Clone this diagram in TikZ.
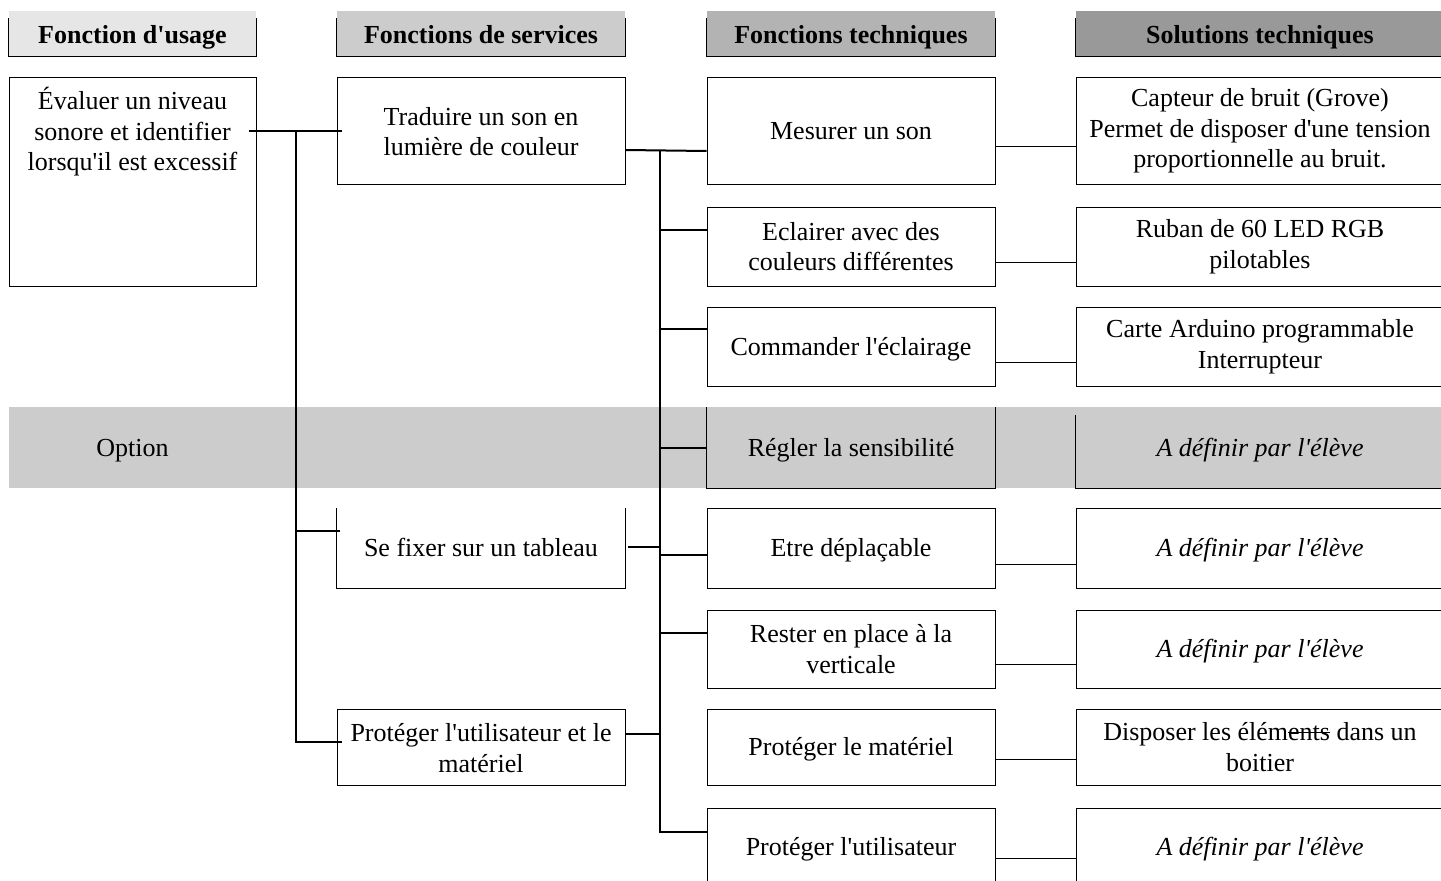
\documentclass[tikz,border=0pt]{standalone}
\usepackage{fontspec}
\setmainfont{Liberation Serif}
\usetikzlibrary{calc}
\newcommand\mystrike[1]{\begingroup\setbox2=\hbox{#1}\rlap{\rule[0.28em]{\wd2}{0.05em}}\box2\endgroup}
\newcommand\apos{\textquotesingle}
\definecolor{hA}{HTML}{E6E6E6}
\definecolor{hB}{HTML}{CCCCCC}
\definecolor{hC}{HTML}{B3B3B3}
\definecolor{hD}{HTML}{999999}
\definecolor{bandgray}{HTML}{CCCCCC}
\tikzset{
  every node/.style={font=\fontsize{26}{30.5}\selectfont, inner sep=0pt, align=center},
  cA/.style={minimum width=247pt},
  cB/.style={minimum width=288pt},
  cC/.style={minimum width=288pt},
  cD/.style={minimum width=368pt},
  box/.style={draw=black, line width=1pt},
  one/.style={text height=19pt, text depth=2pt},
  hdr/.style={font=\fontsize{26}{30.5}\selectfont\bfseries, minimum height=45pt, text height=22pt, text depth=2pt},
  edge/.style={line width=1pt},
  conn/.style={line width=2pt},
  thinconn/.style={line width=1pt},
  sol/.style={font=\fontsize{26}{30.5}\selectfont\itshape, one}
}
\begin{document}
\begin{tikzpicture}[x=1pt,y=-1pt]
\useasboundingbox (0,0) rectangle (1441,881);
\clip (0,0) rectangle (1441,881);
\fill[white] (0,0) rectangle (1441,881);

% headers
\node[hdr,cA,fill=hA] (h1) at (132.5,33.5) {Fonction d\apos usage};
\node[hdr,cB,fill=hB] (h2) at (481,33.5) {Fonctions de services};
\node[hdr,cC,fill=hC] (h3) at (851,33.5) {Fonctions techniques};
\node[hdr,cD,fill=hD] (h4) at (1260,33.5) {Solutions techniques};
\foreach \h in {h1,h2,h3,h4}
  \draw[edge] ($(\h.north west)+(0,7)$) -- (\h.south west) -- (\h.south east) -- ($(\h.north east)+(0,7)$);

% option band
\node[fill=bandgray, minimum width=1432pt, minimum height=81pt, anchor=west] (band) at (9,447.5) {};
\node[one] (opt) at (132.5,447.5) {Option};

% column 1
\node[box,cA,minimum height=209pt] (ev) at (132.5,181.5) {};
\node[anchor=north] (evt) at (132.5,87) {Évaluer un niveau\\sonore et identifier\\lorsqu\apos il est excessif};

% column 2
\node[box,cB,minimum height=107pt] (trad) at (481,130.5) {};
\node (tradt) at (481,131.5) {Traduire un son en\\lumière de couleur};
\node[cB,minimum height=80pt,one] (fix) at (481,548) {Se fixer sur un tableau};
\draw[edge] (fix.north west) -- (fix.south west) -- (fix.south east) -- (fix.north east);
\node[box,cB,minimum height=76pt] (pum) at (481,747) {};
\node (pumt) at (481,748) {Protéger l\apos utilisateur et le\\matériel};

% column 3
\node[box,cC,minimum height=107pt,one] (mes) at (851,130.5) {Mesurer un son};
\node[box,cC,minimum height=79pt] (ecl) at (851,246.5) {Eclairer avec des\\couleurs différentes};
\node[box,cC,minimum height=79pt,one] (com) at (851,346.5) {Commander l\apos éclairage};
\node[cC,minimum height=81pt,one] (regl) at (851,447.5) {Régler la sensibilité};
\draw[edge] (regl.north west) -- (regl.south west) -- (regl.south east) -- (regl.north east);
\node[box,cC,minimum height=80pt,one] (dep) at (851,548) {Etre déplaçable};
\node[box,cC,minimum height=78pt] (res) at (851,649) {Rester en place à la\\verticale};
\node[box,cC,minimum height=76pt,one] (pmat) at (851,747) {Protéger le matériel};
\node[box,cC,minimum height=78pt,one] (put) at (851,847) {Protéger l\apos utilisateur};

% column 4
\node[box,cD,minimum height=107pt] (cap) at (1260,130.5) {};
\node (capt) at (1260,131) {Capteur de bruit (Grove)\\Permet de disposer d\apos une tension\\proportionnelle au bruit.};
\node[box,cD,minimum height=79pt] (rub) at (1260,246.5) {Ruban de 60 LED RGB\\pilotables};
\node[box,cD,minimum height=79pt] (car) at (1260,346.5) {Carte Arduino programmable\\Interrupteur};
\node[cD,minimum height=81pt,sol] (sreg) at (1260,447.5) {A définir par l\apos élève};
\draw[edge] ($(sreg.north west)+(0,8)$) -- (sreg.south west) -- (sreg.south east);
\node[box,cD,minimum height=80pt,sol] (sdep) at (1260,548) {A définir par l\apos élève};
\node[box,cD,minimum height=78pt,sol] (sres) at (1260,649) {A définir par l\apos élève};
\node[box,cD,minimum height=76pt] (boit) at (1260,747) {Disposer les élém\mystrike{ents}\ dans un\\boitier};
\node[box,cD,minimum height=78pt,sol] (sput) at (1260,847) {A définir par l\apos élève};

% trunk 1
\coordinate (a1) at (296,131);
\coordinate (a2) at (296,742);
\coordinate (a3) at (296,531);
\draw[conn] ($(ev.east|-a1)+(-8,0)$) -- ($(trad.west|-a1)+(5,0)$);
\draw[conn] (a1) -- (a2) -- ($(pum.west|-a2)+(5,0)$);
\draw[conn] (a3) -- ($(fix.west|-a3)+(3,0)$);

% trunk 2
\coordinate (b1) at (660,150);
\coordinate (b2) at (660,832);
\draw[conn] (trad.east|-b1) -- ($(mes.west|-b1)+(0,1)$);
\draw[conn] (b1) -- (b2) -- (put.west|-b2);
\foreach \n/\dy in {ecl/-16.5, com/-17.5, regl/0.5, dep/7, res/-16}
  \draw[conn] ($(b1|-\n.west)+(0,\dy)$) -- ($(\n.west)+(0,\dy)$);
\draw[conn] ($(fix.east)+(3,-1)$) -- ($(b1|-fix.east)+(0,-1)$);
\draw[conn] ($(pum.east)+(0,-13)$) -- ($(b1|-pum.east)+(0,-13)$);

% tech -> solutions
\draw[thinconn] ($(mes.east)+(0,15.5)$) -- ($(cap.west)+(0,15.5)$);
\draw[thinconn] ($(ecl.east)+(0,15.5)$) -- ($(rub.west)+(0,15.5)$);
\draw[thinconn] ($(com.east)+(0,15.5)$) -- ($(car.west)+(0,15.5)$);
\draw[thinconn] ($(dep.east)+(0,16)$) -- ($(sdep.west)+(0,16)$);
\draw[thinconn] ($(res.east)+(0,15)$) -- ($(sres.west)+(0,15)$);
\draw[thinconn] ($(pmat.east)+(0,12)$) -- ($(boit.west)+(0,12)$);
\draw[thinconn] ($(put.east)+(0,11)$) -- ($(sput.west)+(0,11)$);
\end{tikzpicture}
\end{document}
